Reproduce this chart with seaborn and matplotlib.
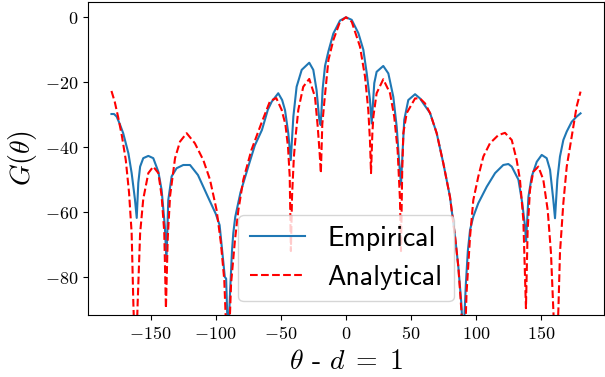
import numpy as np
import pandas as pd
import matplotlib
matplotlib.use("Agg")
import matplotlib.pyplot as plt
import seaborn as sns
from matplotlib.ticker import FuncFormatter

# ---------------- data ----------------
theta_analytical = [
    -180, -177.5, -175, -172, -169, -166.5, -164.5, -163.2, -161.5, -159.9, -158,
    -155.6, -151.7, -147.9, -144, -141.5, -139.5, -138.2, -136.8, -135, -131.2,
    -127.4, -122.3, -116, -109.5, -104.4, -99.3, -96, -93.4, -90.7, -88.2, -85.2,
    -82.6, -78.8, -72.6, -64.9, -58.3, -53.5, -49.4, -46.5, -44.5, -43.2, -42.3,
    -41.4, -40, -38.5, -36.6, -32.8, -28.2, -23.8, -21.7, -20.2, -19.3, -18.2,
    -16.5, -13.5, -9.7, -4.6, 0,
    4.4, 10.7, 14.6, 17.1, 18.4, 19.2, 20.2, 21, 23.5, 28.6, 33.8, 37, 39.6, 41.4,
    42.2, 43.1, 44, 46.6, 53, 56.8, 60.6, 64.5, 69.6, 74.7, 79.8, 83.7, 86.2, 88.5,
    90.5, 92.5, 95.2, 97.7, 101.5, 105.4, 110.5, 116.9, 122, 127.2, 131, 133.5,
    136.1, 138.1, 139.4, 141.2, 143.7, 147.6, 151.4, 154.8, 157.3, 159.1, 161.2,
    163, 164.2, 166.8, 169.4, 173.2, 177, 180,
]
gain_analytical = [
    -22.7, -26, -30.5, -36.5, -44, -54, -66.5, -88, -110, -88, -66.5,
    -56, -48, -46, -48, -55, -66, -89.6, -68, -55, -43.4,
    -38.3, -35.7, -38.8, -44, -50, -59.4, -69.6, -81, -110, -82, -68.6,
    -59.4, -50, -40.9, -32.6, -25.8, -24.9, -28.5, -33, -40, -49, -72,
    -55, -43, -36, -28.5, -21.4, -19, -24.5, -33.7, -42, -48, -33,
    -25.5, -13.2, -7, -1.4, 0,
    -1.4, -9, -18.3, -28.6, -38, -48, -36, -30.6, -23.4, -19.1, -23.4, -30.6, -40.9, -56,
    -72, -48, -35.7, -29.5, -25, -25, -26.5, -29.5, -35.7, -45, -55.3, -67.6, -76.8, -90,
    -110, -85, -67.6, -56.3, -49.1, -42.9, -38.8, -36.3, -35.6, -37.8, -44, -50,
    -62.4, -89.6, -65.5, -53.2, -47.6, -46, -50, -59.4, -72.6, -90, -110,
    -90, -72.6, -57.2, -46, -36.8, -27.5, -22.9,
]

theta_empirical = [
    -180, -178, -176, -173.5, -171, -167, -164.5, -162, -160.6, -159.4, -158,
    -155.6, -151.7, -147.9, -144, -141.5, -139, -137.8, -136.4, -133.8, -130,
    -124.9, -119.7, -113.6, -106, -100, -97, -94, -93, -92, -90.5, -89, -87.5,
    -86.5, -85, -81, -75, -70, -64.5, -60, -57, -52, -49, -46.8, -44.3, -42.4,
    -40.4, -37.9, -34, -28.2, -25.1, -22.6, -20.5, -19.4, -17.9, -16.1, -13.5,
    -9.7, -4.6, 0,
    4.4, 9.5, 13.3, 15.9, 18.4, 19.7, 21.7, 23.5, 28.6, 32.5, 36.3, 38.9, 40.7,
    42.2, 43.5, 44.7, 47.8, 53, 56.8, 59.3, 64.5, 69.6, 74.7, 79.8, 83.7, 86.2,
    88.5, 90, 92, 93.5, 95.2, 97.7, 101.5, 108, 114.4, 120.7, 124.6, 127.2, 132.3,
    135.3, 137.4, 138.2, 140, 142.5, 146.4, 150.2, 154, 156.6, 159.1, 160.4,
    162.2, 164.2, 166.8, 169.4, 173.2, 177, 180,
]
gain_empirical = [
    -29.8, -29.8, -30.6, -33, -35.7, -41.9, -48, -56, -61.8, -51, -46,
    -43.4, -42.7, -43.4, -47.6, -53.2, -64.5, -75, -56.3, -49, -46.5,
    -45.5, -45.5, -48.6, -55.3, -60.5, -64, -76, -80, -80.5, -100, -85, -72,
    -66.5, -61.5, -54, -46, -39.5, -34.7, -28.5, -26, -23.4, -25.5, -28.6, -35.7, -44,
    -30.6, -21.4, -16.2, -14, -16.2, -22.4, -31.6, -33.2, -22, -15, -10.5,
    -5, -1, 0,
    -0.8, -4.9, -10, -17.2, -25.5, -32.7, -20.3, -16.8, -15, -17.3, -24.5, -33.7, -44,
    -51.6, -40.9, -31.6, -25.5, -23.7, -25, -26.5, -29.5, -35.7, -45, -55.3, -67.6, -76.8,
    -88, -100, -82, -72, -65.5, -61.4, -57.3, -52.2, -48, -45.5, -45.2, -46, -50,
    -57.3, -64.5, -69, -55.3, -49.1, -44.5, -42.4, -43.4, -47, -56.3, -61.9,
    -50, -42.9, -37.8, -35.2, -32.2, -30.6, -29.6,
]

series_names = ["Empirical", "Analytical"]
x_ticks = [-150, -100, -50, 0, 50, 100, 150]
y_ticks = [-80, -60, -40, -20, 0]

# ---------------- plotting ----------------
plt.rcParams["mathtext.fontset"] = "cm"
plt.rcParams["axes.unicode_minus"] = True

df_emp = pd.DataFrame({"theta": theta_empirical, "G": gain_empirical})
df_ana = pd.DataFrame({"theta": theta_analytical, "G": gain_analytical})

fig = plt.figure(figsize=(6.05, 3.77), dpi=100)
ax = fig.add_axes([88 / 605, 1 - 315 / 377, (604 - 88) / 605, (315 - 2) / 377])

sns.lineplot(data=df_emp, x="theta", y="G", ax=ax, color="#1f77b4",
             linewidth=1.5, estimator=None, sort=False, label=series_names[0])
sns.lineplot(data=df_ana, x="theta", y="G", ax=ax, color="red",
             linewidth=1.5, linestyle="--", estimator=None, sort=False,
             label=series_names[1])

ax.set_xlim(-198, 198)
ax.set_ylim(-91.7, 4.7)
ax.set_xticks(x_ticks)
ax.set_yticks(y_ticks)
fmt = FuncFormatter(lambda v, pos: r"$%d$" % int(round(v)))
ax.xaxis.set_major_formatter(fmt)
ax.yaxis.set_major_formatter(fmt)
ax.tick_params(labelsize=13)

ax.set_xlabel(r"$\theta$ - $d\;=\;1$", fontsize=20, family="cmr10")
ax.set_ylabel(r"$G(\theta)$", fontsize=20)

ax.legend(loc="lower center", prop={"family": "cmss10", "size": 20})

fig.savefig("out.png", dpi=100)
